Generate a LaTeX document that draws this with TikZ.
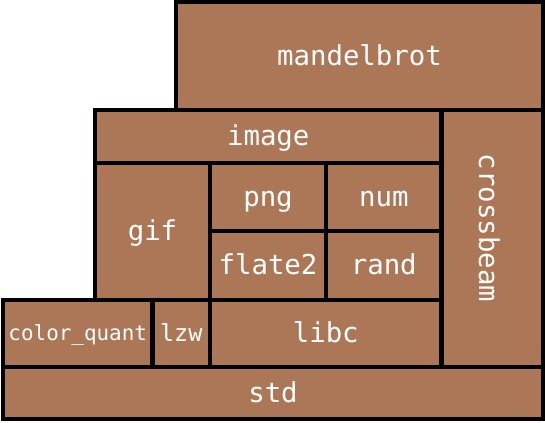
\documentclass[tikz,border=0pt]{standalone}
\usepackage{fontspec}
\newfontfamily\monof{DejaVu Sans Mono}
\definecolor{crate}{HTML}{AC7756}
\begin{document}
\begin{tikzpicture}[x=1bp,y=-1bp,
  blk/.style={rectangle, draw=black, fill=crate, line width=4.3bp, inner sep=0pt, outer sep=0pt,
    text=white, font=\monof\fontsize{27.5}{30}\selectfont, text height=18bp, text depth=0pt},
  small/.style={font=\monof\fontsize{21}{24}\selectfont, text height=14bp},
  mid/.style={font=\monof\fontsize{23.5}{26}\selectfont, text height=15.5bp}]
\useasboundingbox (0,0) rectangle (545,422);
\node[blk, minimum width=367bp, minimum height=108bp] (mandelbrot) at (359.5,56) {mandelbrot};
\node[blk, minimum width=346.5bp, minimum height=53bp] (image) at (268.25,136.5) {image};
\node[blk, minimum width=101.5bp, minimum height=257bp] (crossbeam) at (492.25,238.5) {};
\node[text=white, font=\monof\fontsize{27.5}{30}\selectfont, text height=18bp, text depth=0pt, inner sep=0pt, rotate=-90] (crossbeamlbl) at (488,228) {crossbeam};
\node[blk, minimum width=115bp, minimum height=137bp] (gif) at (152.5,231.5) {gif};
\node[blk, minimum width=116bp, minimum height=68bp] (png) at (268,197) {png};
\node[blk, minimum width=115.5bp, minimum height=68bp] (num) at (383.75,197) {num};
\node[blk, minimum width=116bp, minimum height=69bp] (flate2) at (268,265.5) {flate2};
\node[blk, minimum width=115.5bp, minimum height=69bp] (rand) at (383.75,265.5) {rand};
\node[blk, small, minimum width=149.5bp, minimum height=67bp] (colorquant) at (77.75,333.5) {color\_quant};
\node[blk, mid, minimum width=57.5bp, minimum height=67bp] (lzw) at (181.25,333.5) {lzw};
\node[blk, minimum width=231.5bp, minimum height=67bp] (libc) at (325.75,333.5) {libc};
\node[blk, minimum width=540bp, minimum height=52bp] (std) at (273,393) {std};
\end{tikzpicture}
\end{document}
